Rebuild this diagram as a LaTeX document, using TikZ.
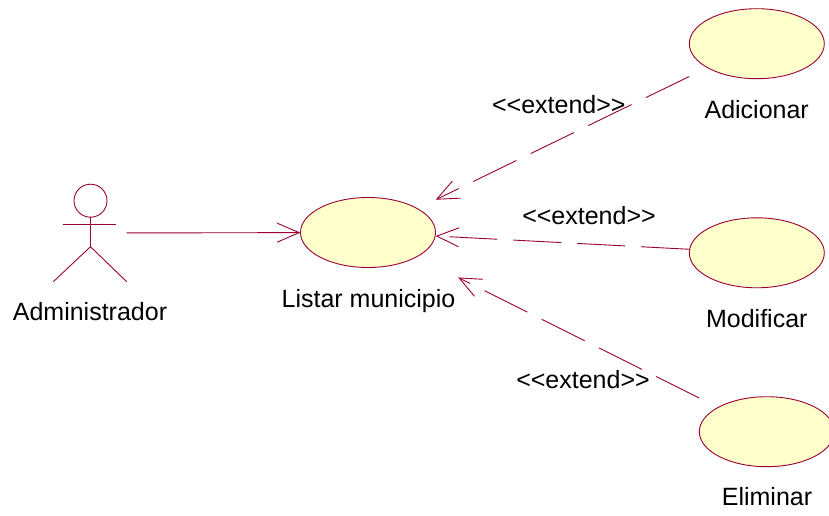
\documentclass[tikz,border=0pt]{standalone}
\usepackage{fontspec}
\setmainfont{Liberation Sans}
\usetikzlibrary{arrows.meta,shapes.geometric}
\definecolor{umlline}{RGB}{153,0,51}
\definecolor{ucfill}{RGB}{255,255,204}
\newcommand{\stereo}[1]{<\kern0pt<#1>\kern0pt>}
\begin{document}
\begin{tikzpicture}[x=1pt,y=-1pt,
  ucshape/.style={ellipse, draw=umlline, fill=ucfill, line width=0.9pt, minimum width=135pt, minimum height=70pt, inner sep=0pt},
  ucbox/.style={rectangle, draw=none, minimum width=135pt, minimum height=70pt, inner sep=0pt},
  lbl/.style={font=\fontsize{25}{30}\selectfont, text=black, inner sep=0pt, anchor=base},
  stick/.style={draw=umlline, line width=0.9pt},
  assoc/.style={draw=umlline, line width=0.9pt, -{Straight Barb[length=22pt,width=19pt]}},
  ext/.style={assoc, dash pattern=on 48pt off 16pt}]
\useasboundingbox (0,0) rectangle (829,516);

% actor
\node[draw=none, minimum width=73pt, minimum height=98pt, inner sep=0pt] (actor) at (90,233) {};
\draw[stick] (90.5,200.7) circle [radius=16.5pt];
\draw[stick] (63.3,224.3) -- (116,224.3);
\draw[stick] (90.5,217.2) -- (90.5,246.7);
\draw[stick] (53.3,281.7) -- (90.5,246.7) -- (126.7,281.7);
\node[lbl] (actorL) at (90,320) {Administrador};

% use cases
\node[ucshape] (listarE) at (368,232.5) {};
\node[ucbox] (listar) at (368,232.5) {};
\node[lbl] (listarL) at (368.5,307) {Listar municipio};

\node[ucshape] (adicE) at (756.8,43.7) {};
\node[ucbox] (adic) at (756.8,43.7) {};
\node[lbl] (adicL) at (756.7,118) {Adicionar};

\node[ucshape] (modifE) at (756.8,252.8) {};
\node[ucbox] (modif) at (756.8,252.8) {};
\node[lbl] (modifL) at (756.8,327.7) {Modificar};

\node[ucshape] (elimE) at (766.8,431.7) {};
\node[ucbox] (elim) at (766.8,431.7) {};
\node[lbl] (elimL) at (767,505) {Eliminar};

% connectors
\draw[assoc] (actor) -- (listar);
\draw[ext] (adic) -- (listar);
\draw[ext] (modif) -- (listar);
\draw[ext, shorten >=25pt] (elim) -- (listar);

% stereotype labels
\node[lbl] (ext1) at (558.8,113.5) {\stereo{extend}};
\node[lbl] (ext2) at (589,224) {\stereo{extend}};
\node[lbl] (ext3) at (583,388.3) {\stereo{extend}};
\end{tikzpicture}
\end{document}
